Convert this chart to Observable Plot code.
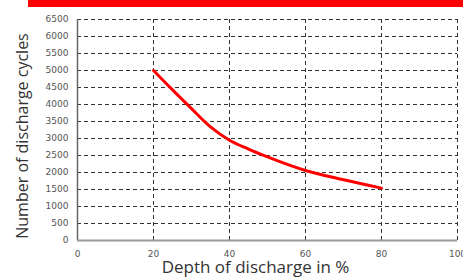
<!DOCTYPE html>
<html>
<head>
<meta charset="utf-8">
<script src="https://cdn.jsdelivr.net/npm/d3@7"></script>
<script src="https://cdn.jsdelivr.net/npm/@observablehq/plot@0.6"></script>
<style>
  html, body { margin: 0; padding: 0; background: #fff; }
  #wrap { position: relative; width: 463px; height: 277px; overflow: hidden; }
  #banner { position: absolute; left: 28px; top: 0; width: 435px; height: 7px; background: #ff0000; overflow: hidden; }
  #banner span { position: absolute; left: 8px; top: -26.5px; line-height: 28px; color: #fff; font: italic bold 20px "Open Sans", sans-serif; white-space: nowrap; }
  #chart { position: absolute; left: 0; top: 0; }
</style>
</head>
<body>
<div id="wrap">
  <div id="chart"></div>
  <div id="banner"><span>Cycle life by depth of discharge</span></div>
</div>
<script>
const depth = [20, 25, 30, 35, 40, 45, 50, 60, 70, 80];
const cycles = [5000, 4430, 3880, 3340, 2950, 2690, 2460, 2060, 1785, 1540];
const xTicks = [0, 20, 40, 60, 80, 100];
const yTicks = [0, 500, 1000, 1500, 2000, 2500, 3000, 3500, 4000, 4500, 5000, 5500, 6000, 6500];
const xTitle = "Depth of discharge in %";
const yTitle = "Number of discharge cycles";

const data = depth.map((d, i) => ({depth: d, cycles: cycles[i]}));

const chart = Plot.plot({
  width: 463,
  height: 277,
  marginLeft: 77,
  marginRight: 6,
  marginTop: 19,
  marginBottom: 37,
  style: {fontFamily: "'DejaVu Sans', sans-serif", fontSize: "9px", color: "#555", background: "transparent", overflow: "visible"},
  x: {domain: [0, 100], ticks: xTicks},
  y: {domain: [0, 6500], ticks: yTicks},
  marks: [
    Plot.gridX(xTicks.filter(d => d > 0), {stroke: "#333", strokeOpacity: 1, strokeDasharray: "4,3"}),
    Plot.gridY(yTicks.filter(d => d > 0), {stroke: "#333", strokeOpacity: 1, strokeDasharray: "4,3"}),
    Plot.ruleX([0], {stroke: "#666", strokeWidth: 1.5}),
    Plot.ruleY([0], {stroke: "#999", strokeWidth: 2}),
    Plot.line(data, {x: "depth", y: "cycles", stroke: "#ff0000", strokeWidth: 3, curve: "monotone-x"}),
    Plot.axisX({ticks: xTicks, tickSize: 0, tickPadding: 10, label: null, fill: "#555", tickFormat: d => String(d)}),
    Plot.axisY({ticks: yTicks, tickSize: 0, tickPadding: 9, label: null, fill: "#555", tickFormat: d => String(d)}),
    Plot.text([xTitle], {frameAnchor: "bottom", textAnchor: "middle", lineAnchor: "middle", dx: -12, dy: 27, fontSize: 17, fill: "#333", fontFamily: "'Open Sans', sans-serif"}),
    Plot.text([yTitle], {frameAnchor: "left", textAnchor: "middle", lineAnchor: "middle", rotate: -90, dx: -55, dy: 6, fontSize: 16, fill: "#333", fontFamily: "'Open Sans', sans-serif"})
  ]
});
document.getElementById("chart").appendChild(chart);
</script>
</body>
</html>
